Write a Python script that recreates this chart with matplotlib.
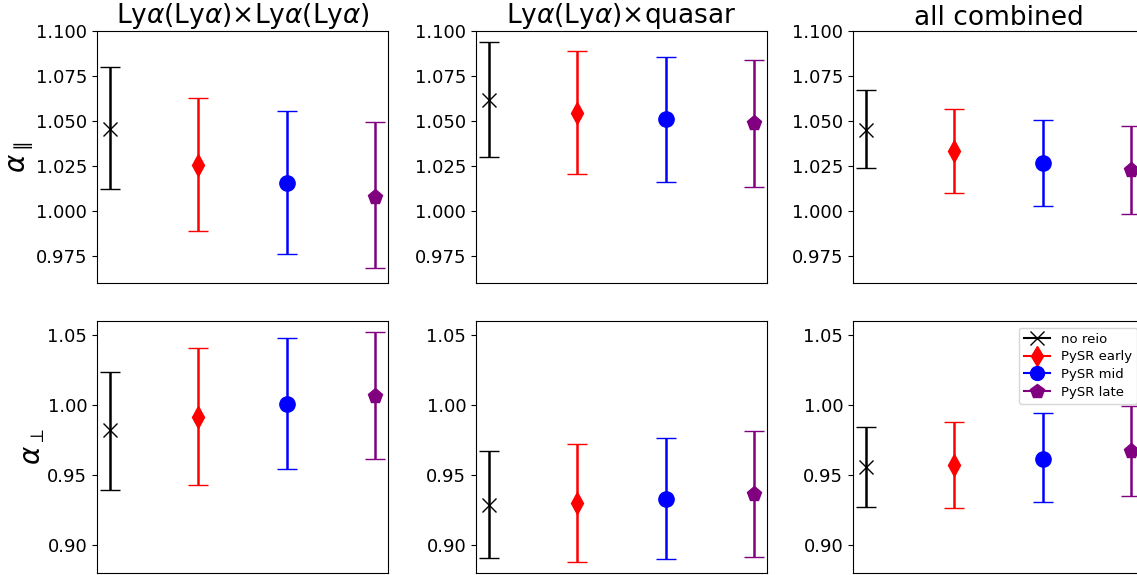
import matplotlib
matplotlib.use("Agg")
import matplotlib.pyplot as plt
from matplotlib.lines import Line2D
import numpy as np

# ---- data ----
labels = ["no reio", "PySR early", "PySR mid", "PySR late"]
colors = ["black", "red", "blue", "purple"]
markers = ["x", "d", "o", "p"]
titles = [r"Ly$\alpha$(Ly$\alpha$)$\times$Ly$\alpha$(Ly$\alpha$)",
          r"Ly$\alpha$(Ly$\alpha$)$\times$quasar",
          "all combined"]

# alpha_parallel: center, lower bound, upper bound per panel
apar_c = [[1.0454, 1.0256, 1.0157, 1.0080],
          [1.0617, 1.0543, 1.0511, 1.0487],
          [1.0450, 1.0333, 1.0269, 1.0228]]
apar_lo = [[1.0120, 0.9887, 0.9759, 0.9683],
           [1.0300, 1.0207, 1.0163, 1.0133],
           [1.0237, 1.0098, 1.0028, 0.9981]]
apar_hi = [[1.0798, 1.0626, 1.0556, 1.0493],
           [1.0941, 1.0887, 1.0857, 1.0839],
           [1.0672, 1.0565, 1.0506, 1.0470]]

# alpha_perp
aperp_c = [[0.9821, 0.9911, 1.0007, 1.0067],
           [0.9287, 0.9301, 0.9328, 0.9361],
           [0.9557, 0.9569, 0.9617, 0.9672]]
aperp_lo = [[0.9390, 0.9426, 0.9543, 0.9615],
            [0.8904, 0.8880, 0.8897, 0.8914],
            [0.9273, 0.9261, 0.9309, 0.9349]]
aperp_hi = [[1.0239, 1.0407, 1.0478, 1.0522],
            [0.9672, 0.9718, 0.9766, 0.9813],
            [0.9842, 0.9878, 0.9940, 0.9993]]

W, H = 1137, 575
fig = plt.figure(figsize=(W / 100, H / 100), dpi=100)

lefts = [97, 476, 853]
axw = 291
rows = [(31, 283), (321, 573)]

def add_ax(left, top, bottom):
    return fig.add_axes([left / W, 1 - bottom / H, axw / W, (bottom - top) / H])

for r, (top, bottom) in enumerate(rows):
    for c in range(3):
        ax = add_ax(lefts[c], top, bottom)
        if r == 0:
            cen, lo, hi = apar_c[c], apar_lo[c], apar_hi[c]
        else:
            cen, lo, hi = aperp_c[c], aperp_lo[c], aperp_hi[c]
        for i in range(4):
            yerr = [[cen[i] - lo[i]], [hi[i] - cen[i]]]
            ms = 11 if markers[i] != "x" else 10.5
            ax.errorbar([i], [cen[i]], yerr=yerr, fmt=markers[i], color=colors[i],
                        ms=ms, capsize=7, elinewidth=1.8, capthick=1.8,
                        mew=1.0)
        ax.set_xticks([])
        ax.tick_params(axis="y", labelsize=13)
        if r == 0:
            ax.set_ylim(0.96, 1.10)
            ax.set_yticks([0.975, 1.000, 1.025, 1.050, 1.075, 1.100])
            ax.set_yticklabels(["0.975", "1.000", "1.025", "1.050", "1.075", "1.100"])
            ax.set_title(titles[c], fontsize=19, pad=4)
        else:
            ax.set_ylim(0.88, 1.06)
            ax.set_yticks([0.90, 0.95, 1.00, 1.05])
            ax.set_yticklabels(["0.90", "0.95", "1.00", "1.05"])
        if c == 0:
            ax.set_ylabel(r"$\alpha_\parallel$" if r == 0 else r"$\alpha_\perp$",
                          fontsize=20, labelpad=0)
        if r == 1 and c == 2:
            handles = [Line2D([0], [0], color=colors[i], marker=markers[i],
                              ms=10, lw=1.5) for i in range(4)]
            ax.legend(handles, labels, loc="upper right", fontsize=9.5,
                      handlelength=2.0, borderpad=0.4, labelspacing=0.35)

fig.savefig("out.png", dpi=100)
